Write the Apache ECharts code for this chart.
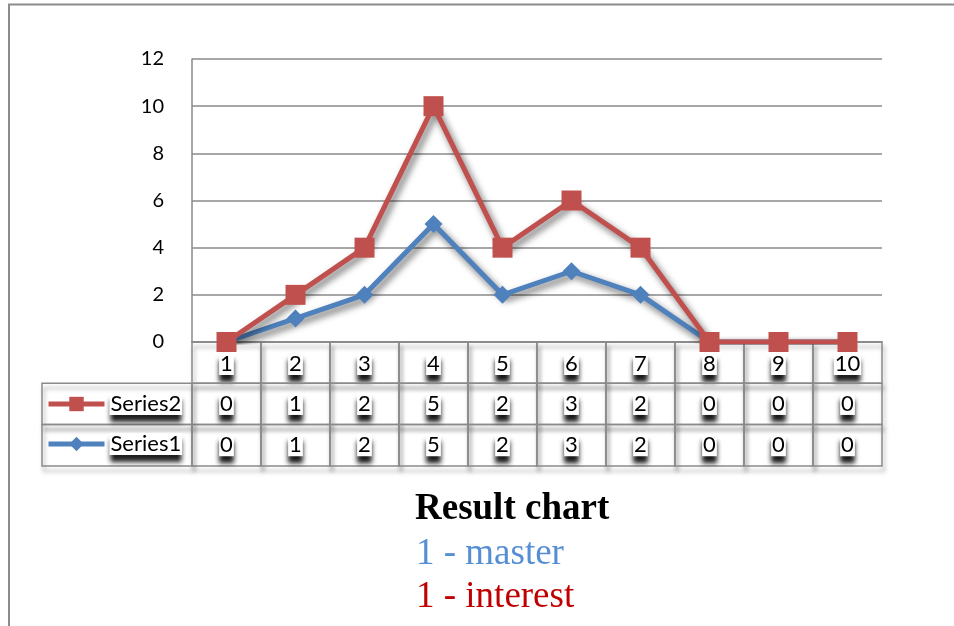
<!DOCTYPE html>
<html>
<head>
<meta charset="utf-8">
<script src="https://cdn.jsdelivr.net/npm/echarts@6/dist/echarts.min.js"></script>
<style>
  html, body { margin: 0; padding: 0; background: #fff; }
  #chart { width: 954px; height: 626px; }
</style>
</head>
<body>
<div id="chart"></div>
<script>
// Categories along the x axis (also the header row of the data table)
const categories = ['1', '2', '3', '4', '5', '6', '7', '8', '9', '10'];
// Raw values of each series (shown in the data table; lines are stacked)
const series1 = [0, 1, 2, 5, 2, 3, 2, 0, 0, 0];
const series2 = [0, 1, 2, 5, 2, 3, 2, 0, 0, 0];
const seriesNames = ['Series1', 'Series2'];
// Value axis range
const yMin = 0, yMax = 12, yStep = 2;
// Caption lines under the chart
const captionTitle = 'Result chart';
const captionLines = ['1 - master', '1 - interest'];

const BLUE = '#4f81bd';
const RED = '#c0504d';
const GRID = '#8a8a8a';
const FONT = 'Lato, "Open Sans", sans-serif';

// Layout of the plot and its data table
const PLOT_LEFT = 192, PLOT_RIGHT = 72, PLOT_TOP = 59, PLOT_BOTTOM = 342;
const ROW_H = 41.3;
const LEGEND_W = 150;

const cellShadow = {
  shadowColor: 'rgba(0,0,0,0.35)', shadowBlur: 4, shadowOffsetX: 2, shadowOffsetY: 5
};
const labelBox = {
  backgroundColor: '#fff', padding: [0, 1],
  shadowColor: 'rgba(0,0,0,0.9)', shadowBlur: 5, shadowOffsetY: 7
};

function renderTable(params, api) {
  const i = api.value(0);
  const p = api.coord([i, 0]);
  const w = api.size([1, 0])[0];
  const x0 = p[0] - w / 2;
  const y0 = p[1];
  const children = [];
  for (let r = 0; r < 3; r++) {
    children.push({
      type: 'rect',
      shape: { x: x0, y: y0 + r * ROW_H, width: w, height: ROW_H },
      style: Object.assign({ fill: 'transparent', stroke: GRID, lineWidth: 1.5 }, cellShadow)
    });
  }
  [api.value(2), api.value(3)].forEach(function (v, r) {
    children.push({
      type: 'text',
      x: p[0], y: y0 + (r + 1.5) * ROW_H,
      style: Object.assign({
        text: String(v), fill: '#000', font: '22px ' + FONT,
        textAlign: 'center', textVerticalAlign: 'middle'
      }, labelBox)
    });
  });
  if (i === 0) {
    for (let r = 1; r < 3; r++) {
      children.push({
        type: 'rect',
        shape: { x: x0 - LEGEND_W, y: y0 + r * ROW_H, width: LEGEND_W, height: ROW_H },
        style: Object.assign({ fill: 'transparent', stroke: GRID, lineWidth: 1.5 }, cellShadow)
      });
    }
  }
  return { type: 'group', children: children };
}

const chart = echarts.init(document.getElementById('chart'), null, { renderer: 'canvas' });

const lineShadow = {
  shadowColor: 'rgba(0,0,0,0.6)', shadowBlur: 7, shadowOffsetX: 3, shadowOffsetY: 4
};

chart.setOption({
  animation: false,
  backgroundColor: '#fff',
  grid: { left: PLOT_LEFT, right: PLOT_RIGHT, top: PLOT_TOP, height: PLOT_BOTTOM - PLOT_TOP },
  legend: {
    orient: 'vertical', left: 46, top: 393, padding: 0,
    itemWidth: 56, itemHeight: 18, itemGap: 18,
    selectedMode: false,
    data: ['Series2', 'Series1'],
    lineStyle: { width: 5 },
    textStyle: Object.assign({ fontSize: 22, fontFamily: FONT, color: '#000' }, labelBox)
  },
  xAxis: {
    type: 'category', data: categories, boundaryGap: true,
    axisLine: { lineStyle: { color: GRID, width: 1.5 } },
    axisTick: { show: false },
    axisLabel: Object.assign({
      interval: 0, margin: 11, fontSize: 22, fontFamily: FONT, color: '#000'
    }, labelBox)
  },
  yAxis: {
    type: 'value', min: yMin, max: yMax, interval: yStep,
    axisLine: { show: true, lineStyle: { color: GRID, width: 1.5 } },
    axisTick: { show: false },
    axisLabel: { margin: 28, fontSize: 20, fontFamily: FONT, color: '#000' },
    splitLine: { lineStyle: { color: GRID, width: 1.5 } }
  },
  graphic: [{
    type: 'polyline', silent: true,
    shape: { points: [[9, 626], [9, 4.5], [954, 4.5]] },
    style: { stroke: '#8c8c8c', lineWidth: 2, fill: null }
  }, {
    type: 'text', left: 415, top: 491,
    style: { text: captionTitle, fill: '#000', font: 'bold 37px "Liberation Serif", serif' }
  }, {
    type: 'text', left: 416, top: 536,
    style: { text: captionLines[0], fill: '#558ed5', font: '37px "Liberation Serif", serif' }
  }, {
    type: 'text', left: 416, top: 579,
    style: { text: captionLines[1], fill: '#c00000', font: '37px "Liberation Serif", serif' }
  }],
  series: [{
    type: 'custom', name: 'table', z: 1, silent: true, clip: false,
    renderItem: renderTable,
    encode: { x: 0, y: 1 },
    data: categories.map(function (c, i) { return [i, 0, series2[i], series1[i]]; })
  }, {
    type: 'line', name: seriesNames[0], stack: 'total', z: 3,
    data: series1,
    symbol: 'diamond', symbolSize: 18,
    lineStyle: Object.assign({ color: BLUE, width: 5 }, lineShadow),
    itemStyle: { color: BLUE }
  }, {
    type: 'line', name: seriesNames[1], stack: 'total', z: 4,
    data: series2,
    symbol: 'rect', symbolSize: 20,
    lineStyle: Object.assign({ color: RED, width: 5 }, lineShadow),
    itemStyle: { color: RED }
  }]
});
</script>
</body>
</html>
